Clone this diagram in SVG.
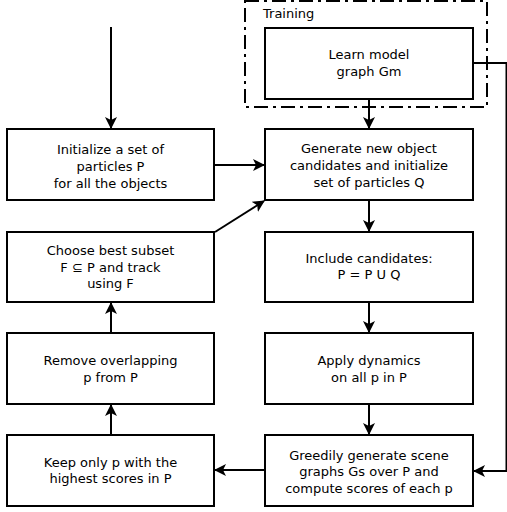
<svg xmlns="http://www.w3.org/2000/svg" width="507" height="512" viewBox="0 0 507 512">
<style>
.box{fill:#fff;stroke:#000;stroke-width:2}
.t{font-family:"DejaVu Sans",sans-serif;font-size:13px;fill:#000;text-anchor:middle}
.c{fill:none;stroke:#000;stroke-width:2}
</style>
<defs>
<marker id="ah" viewBox="0 0 12 12" refX="11" refY="6" markerWidth="12" markerHeight="12" markerUnits="userSpaceOnUse" orient="auto">
<path d="M0,0 L12,6 L0,12 L3,6 Z" fill="#000"/>
</marker>
</defs>
<rect width="507" height="512" fill="#fff"/>
<g id="training">
<rect x="245" y="1" width="242" height="106" fill="none" stroke="#000" stroke-width="2" stroke-dasharray="14 5 3 5"/>
<text x="263" y="18" font-family="DejaVu Sans,sans-serif" font-size="13" fill="#000">Training</text>
</g>
<g id="connectors">
<line class="c" x1="111" y1="27" x2="111" y2="128" marker-end="url(#ah)"/>
<line class="c" x1="214" y1="165" x2="264" y2="165" marker-end="url(#ah)"/>
<line class="c" x1="215" y1="232" x2="264" y2="201" marker-end="url(#ah)"/>
<line class="c" x1="369" y1="99" x2="369" y2="128" marker-end="url(#ah)"/>
<line class="c" x1="369" y1="200" x2="369" y2="231" marker-end="url(#ah)"/>
<line class="c" x1="369" y1="302" x2="369" y2="332" marker-end="url(#ah)"/>
<line class="c" x1="369" y1="404" x2="369" y2="434" marker-end="url(#ah)"/>
<line class="c" x1="265" y1="470" x2="215" y2="470" marker-end="url(#ah)"/>
<line class="c" x1="111" y1="435" x2="111" y2="405" marker-end="url(#ah)"/>
<line class="c" x1="111" y1="333" x2="111" y2="303" marker-end="url(#ah)"/>
<polyline class="c" points="473,63 506.5,63 506.5,471 474,471" marker-end="url(#ah)"/>
</g>
<g id="learn">
<rect class="box" x="265" y="28" width="208" height="71"/>
<text class="t" x="369" y="59">Learn model</text>
<text class="t" x="369" y="76">graph Gm</text>
</g>
<g id="init">
<rect class="box" x="7" y="129" width="207" height="71"/>
<text class="t" x="110.5" y="154">Initialize a set of</text>
<text class="t" x="110.5" y="171">particles P</text>
<text class="t" x="110.5" y="188">for all the objects</text>
</g>
<g id="generate">
<rect class="box" x="265" y="129" width="208" height="71"/>
<text class="t" x="369" y="153">Generate new object</text>
<text class="t" x="369" y="170">candidates and initialize</text>
<text class="t" x="369" y="187">set of particles Q</text>
</g>
<g id="choose">
<rect class="box" x="7" y="232" width="207" height="70"/>
<text class="t" x="110.5" y="255">Choose best subset</text>
<text class="t" x="110.5" y="271.5">F ⊆ P and track</text>
<text class="t" x="110.5" y="288">using F</text>
</g>
<g id="include">
<rect class="box" x="265" y="232" width="208" height="70"/>
<text class="t" x="369" y="263">Include candidates:</text>
<text class="t" x="369" y="279">P = P U Q</text>
</g>
<g id="remove">
<rect class="box" x="7" y="333" width="207" height="71"/>
<text class="t" x="110.5" y="365">Remove overlapping</text>
<text class="t" x="110.5" y="381.5">p from P</text>
</g>
<g id="apply">
<rect class="box" x="265" y="333" width="208" height="71"/>
<text class="t" x="369" y="365">Apply dynamics</text>
<text class="t" x="369" y="381.5">on all p in P</text>
</g>
<g id="keep">
<rect class="box" x="7" y="435" width="207" height="71"/>
<text class="t" x="110.5" y="466.5">Keep only p with the</text>
<text class="t" x="110.5" y="483">highest scores in P</text>
</g>
<g id="greedy">
<rect class="box" x="265" y="435" width="208" height="71"/>
<text class="t" x="369" y="459.5">Greedily generate scene</text>
<text class="t" x="369" y="476">graphs Gs over P and</text>
<text class="t" x="369" y="492.5">compute scores of each p</text>
</g>
</svg>
